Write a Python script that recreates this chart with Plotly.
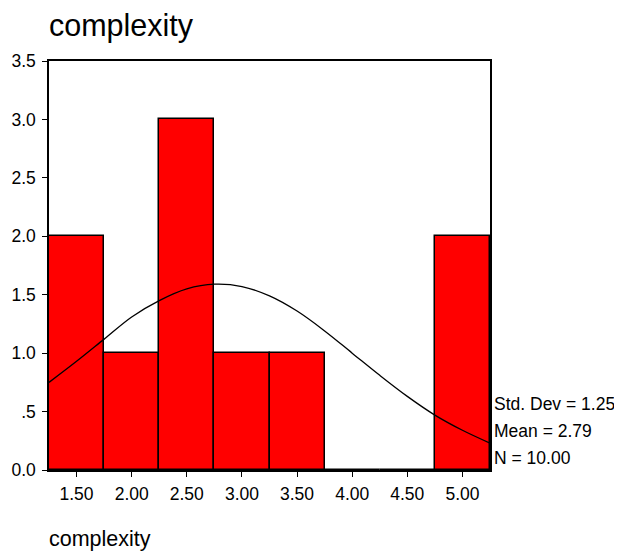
import plotly.graph_objects as go

# histogram bins (centres) and counts
bin_centers = [1.5, 2.0, 2.5, 3.0, 3.5, 4.0, 4.5, 5.0]
counts = [2, 1, 3, 1, 1, 0, 0, 2]

# normal curve
curve_x = [1.25, 1.5, 1.75, 2.0, 2.25, 2.5, 2.75, 3.0, 3.25, 3.5, 3.75, 4.0, 4.25, 4.5, 4.75, 5.0, 5.25]
curve_y = [0.75, 0.93, 1.12, 1.31, 1.45, 1.55, 1.59, 1.57, 1.49, 1.36, 1.19, 1.00, 0.81, 0.63, 0.47, 0.34, 0.23]

x_ticks = [1.5, 2.0, 2.5, 3.0, 3.5, 4.0, 4.5, 5.0]
x_ticktext = ["1.50", "2.00", "2.50", "3.00", "3.50", "4.00", "4.50", "5.00"]
y_ticks = [0, 0.5, 1.0, 1.5, 2.0, 2.5, 3.0, 3.5]
y_ticktext = ["0.0", ".5", "1.0", "1.5", "2.0", "2.5", "3.0", "3.5"]

stats = ["Std. Dev = 1.25", "Mean = 2.79", "N = 10.00"]

font = "Liberation Sans, Arial, sans-serif"

fig = go.Figure()
fig.add_trace(go.Bar(x=bin_centers, y=counts, width=0.5,
    marker=dict(color="#ff0000", line=dict(color="black", width=1.5)),
    showlegend=False, hoverinfo="skip"))
fig.add_trace(go.Scatter(x=curve_x, y=curve_y, mode="lines", line_shape="spline",
    line=dict(color="black", width=1.3), showlegend=False, hoverinfo="skip"))

# page body has an 8px margin, so the figure is 8px smaller each way
fig.update_layout(
    width=614, height=546,
    margin=dict(l=41, r=132, t=53, b=84),
    plot_bgcolor="white", paper_bgcolor="white",
    font=dict(family=font, size=17.5, color="black"),
    bargap=0,
)
fig.update_xaxes(range=[1.25, 5.25], tickvals=x_ticks, ticktext=x_ticktext,
    ticks="outside", ticklen=5, tickcolor="black", showgrid=False, zeroline=False,
    showline=True, linecolor="black", linewidth=1.5, mirror=True,
    tickfont=dict(size=17.5), automargin=False, ticklabelstandoff=2)
fig.update_yaxes(range=[0, 3.5], tickvals=y_ticks, ticktext=y_ticktext,
    ticks="outside", ticklen=5, tickcolor="black", showgrid=False, zeroline=False,
    showline=True, linecolor="black", linewidth=1.5, mirror=True,
    tickfont=dict(size=17.5), automargin=False, ticklabelstandoff=3)

# title and axis caption
fig.add_annotation(text="complexity", xref="paper", yref="paper", x=-0.005, y=1.0,
    xanchor="left", yanchor="bottom", yshift=16, showarrow=False,
    font=dict(size=30.5))
fig.add_annotation(text="complexity", xref="paper", yref="paper", x=-0.005, y=-0.169,
    xanchor="left", yanchor="middle", showarrow=False, font=dict(size=21.5))

# stats box on the right
for txt, yv in zip(stats, [0.565, 0.335, 0.1]):
    fig.add_annotation(text=txt, xref="paper", yref="y", x=1.004, y=yv,
        xanchor="left", yanchor="middle", showarrow=False, font=dict(size=17.5))

fig.write_html("out.html")
